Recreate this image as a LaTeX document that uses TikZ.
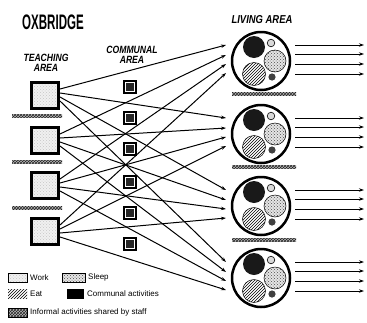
\documentclass[tikz,border=0pt]{standalone}
\usepackage{fontspec}
\setmainfont{Liberation Sans}
\newfontfamily\titlefont[FakeStretch=0.55]{Liberation Sans}
\newfontfamily\headfont[FakeStretch=0.82]{Liberation Sans}
\usetikzlibrary{patterns,arrows.meta,calc}

\tikzset{
  heading/.style={font=\headfont\bfseries\itshape\fontsize{10.5}{10}\selectfont, align=center, inner sep=0pt},
  legendtext/.style={font=\fontsize{8}{8}\selectfont, anchor=west, inner sep=0pt},
  workfill/.style={preaction={fill=gray!12}, pattern=crosshatch dots, pattern color=gray!45},
  sleepfill/.style={preaction={fill=gray!20}, pattern=crosshatch dots, pattern color=black!70},
  eatfill/.style={preaction={fill=white}, pattern=north east lines, pattern color=black},
  informalfill/.style={preaction={fill=gray!55}, pattern=crosshatch, pattern color=black!85},
  teach/.style={draw, line width=3pt, minimum width=27pt, minimum height=26pt, inner sep=0pt, workfill},
  commbox/.style={draw, line width=2pt, fill=white, minimum size=12.5pt, inner sep=0pt},
  commcore/.style={fill=black!85, minimum size=8pt, inner sep=0pt},
  living/.style={circle, draw, line width=2.5pt, fill=white, minimum size=58pt, inner sep=0pt},
  strip/.style={informalfill, minimum height=3.5pt, inner sep=0pt},
  swatch/.style={draw, line width=0.6pt, minimum width=19pt, minimum height=9pt, inner sep=0pt},
  link/.style={line width=1pt, -{Stealth[length=5pt,width=3.4pt]}},
}

\begin{document}
\begin{tikzpicture}[x=1pt, y=-1pt]
\useasboundingbox (0,0) rectangle (367,322);

% headings
\node[font=\titlefont\bfseries\fontsize{21}{21}\selectfont, inner sep=0pt] (title) at (53,22) {OXBRIDGE};
\node[heading] (hteach) at (46,63) {TEACHING\\AREA};
\node[heading] (hcomm) at (132,55) {COMMUNAL\\AREA};
\node[heading, font=\headfont\bfseries\itshape\fontsize{11.5}{11}\selectfont] (hliving) at (262,20) {LIVING AREA};

% teaching area squares
\foreach \i/\ty in {1/95, 2/140, 3/185, 4/231}
  \node[teach] (t\i) at (45,\ty) {};

% informal strips beside the teaching squares
\node[strip, minimum width=50pt] (sa) at (37,116) {};
\node[strip, minimum width=50pt] (sb) at (37,162) {};
\node[strip, minimum width=50pt] (sc) at (37,208) {};

% living area units
\foreach \j/\cy in {1/61, 2/134, 3/206, 4/278} {
  \node[living] (L\j) at (261,\cy) {};
  \fill[black!90] ($(L\j.center)+(-7,-14)$) circle (11);
  \draw[line width=0.6pt, fill=gray!30] ($(L\j.center)+(10,-18)$) circle (3.8);
  \draw[line width=0.5pt, sleepfill] ($(L\j.center)+(14,0)$) circle (11);
  \draw[line width=0.5pt, eatfill] ($(L\j.center)+(-7,13)$) circle (11.5);
  \fill[black!75] ($(L\j.center)+(11,16)$) circle (3.6);
}

% informal strips under the living units
\node[strip, minimum width=64pt] (sd) at (264,94) {};
\node[strip, minimum width=64pt] (se) at (264,167) {};
\node[strip, minimum width=64pt] (sf) at (264,240) {};

% ports on the teaching squares and living units
\foreach \i/\off in {1/-16, 2/-6, 3/3, 4/12} {
  \foreach \j in {1,2,3,4} {
    \coordinate (t\i o\j) at ($(t\i.east)+(0,{(\j-2.5)*4})$);
    \coordinate (L\j i\i) at ($(L\j.center)+(-35,\off)$);
  }
}

% every teaching square feeds every living unit
\foreach \i in {1,2,3,4}
  \foreach \j in {1,2,3,4}
    \draw[link] (t\i o\j) -- (L\j i\i);

% outgoing arrows of the living units
\foreach \j in {1,2,3,4}
  \foreach \k/\off in {1/-16, 2/-7, 3/3, 4/13} {
    \coordinate (L\j r\k) at ($(L\j.center)+(34,\off)$);
    \coordinate (E\j r\k) at ($(L\j.center)+(103,\off)$);
    \draw[link] (L\j r\k) -- (E\j r\k);
  }

% communal area squares
\foreach \c/\cy in {1/87, 2/118, 3/149, 4/182, 5/213, 6/244} {
  \node[commbox] (c\c) at (130,\cy) {};
  \node[commcore] (cc\c) at (c\c.center) {};
}

% legend
\node[swatch, workfill] (kwork) at (17.5,277.5) {};
\node[legendtext] (lwork) at (30,277.5) {Work};
\node[swatch, sleepfill, minimum width=23pt] (ksleep) at (73.5,277.5) {};
\node[legendtext] (lsleep) at (88,277.5) {Sleep};
\node[swatch, eatfill, draw=none] (keat) at (17.5,294) {};
\node[legendtext] (leat) at (30,294) {Eat};
\node[swatch, fill=black, minimum width=16pt] (kcomm) at (75,294) {};
\node[legendtext] (lcomm) at (87,294) {Communal activities};
\node[swatch, informalfill] (kinf) at (17.5,312.5) {};
\node[legendtext] (linf) at (30,312.5) {Informal activities shared by staff};
\end{tikzpicture}
\end{document}
